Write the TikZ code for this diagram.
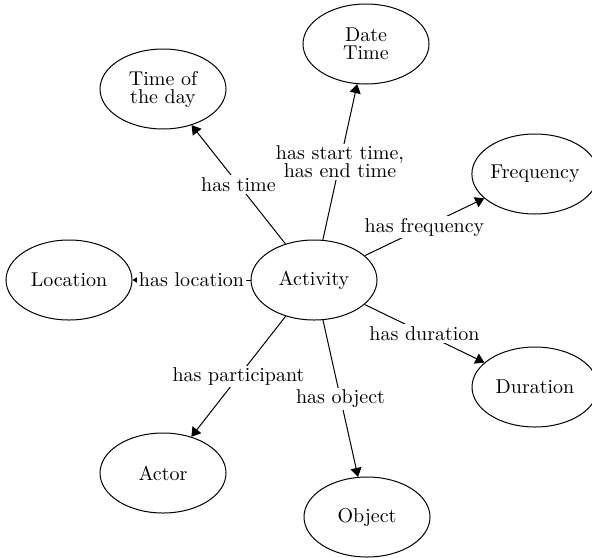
\documentclass[tikz,border=0pt]{standalone}
\usetikzlibrary{arrows.meta,shapes.geometric}
\begin{document}
\begin{tikzpicture}[x=0.5pt,y=-0.5pt,
  concept/.style={draw, ellipse, line width=0.5pt, inner sep=0pt,
    minimum width=63pt, minimum height=40pt, align=center,
    font=\fontsize{10}{9}\selectfont},
  rel/.style={draw, line width=0.5pt,
    -{Triangle[length=4.5pt,width=5.5pt]}},
  lbl/.style={fill=white, inner sep=1pt, align=center,
    font=\fontsize{10}{9}\selectfont}]
\useasboundingbox (0,0) rectangle (592,557);

% concepts
\node[concept] (act)  at (314,280) {Activity};
\node[concept] (dt)   at (366,44)  {Date\\Time};
\node[concept] (tod)  at (163,89)  {Time of\\the day};
\node[concept] (loc)  at (69,280)  {Location};
\node[concept] (freq) at (535,174) {Frequency};
\node[concept] (dur)  at (535,387) {Duration};
\node[concept] (actor) at (163,473) {Actor};
\node[concept] (obj)  at (367,517) {Object};

% relations
\draw[rel] (act) -- node[lbl] {has start time,\\has end time} (dt);
\draw[rel] (act) -- node[lbl] {has time} (tod);
\draw[rel] (act) -- node[lbl] {has location} (loc);
\draw[rel] (act) -- node[lbl] {has frequency} (freq);
\draw[rel] (act) -- node[lbl] {has duration} (dur);
\draw[rel] (act) -- node[lbl] {has participant} (actor);
\draw[rel] (act) -- node[lbl] {has object} (obj);
\end{tikzpicture}
\end{document}
